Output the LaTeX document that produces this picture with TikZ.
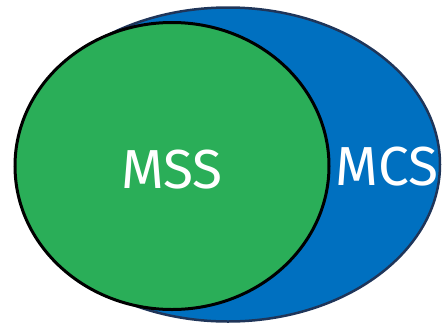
\documentclass[tikz,border=0pt]{standalone}
\usepackage{fontspec}
\setmainfont{Fira Sans}
\definecolor{mcsblue}{HTML}{0070C0}
\definecolor{mcsedge}{HTML}{1F3559}
\definecolor{mssgreen}{HTML}{2AAE58}
\tikzset{
  setlabel/.style={text=white, font=\fontsize{55}{66}\selectfont, inner sep=0pt}
}
\begin{document}
\begin{tikzpicture}[x=1pt, y=-1pt]
    \useasboundingbox (0,0) rectangle (442,325);

    % 外集合 MCS
    \draw[fill=mcsblue, draw=mcsedge, line width=2.5pt] (228,164.5) ellipse [x radius=212, y radius=157];
    \node[setlabel] (mcs) at (387,167) {MCS};

    % 内集合 MSS
    \draw[fill=mssgreen, draw=black, line width=3pt] (172,166) ellipse [x radius=157, y radius=143.5];
    \node[setlabel] (mss) at (172,170) {MSS};
\end{tikzpicture}
\end{document}
